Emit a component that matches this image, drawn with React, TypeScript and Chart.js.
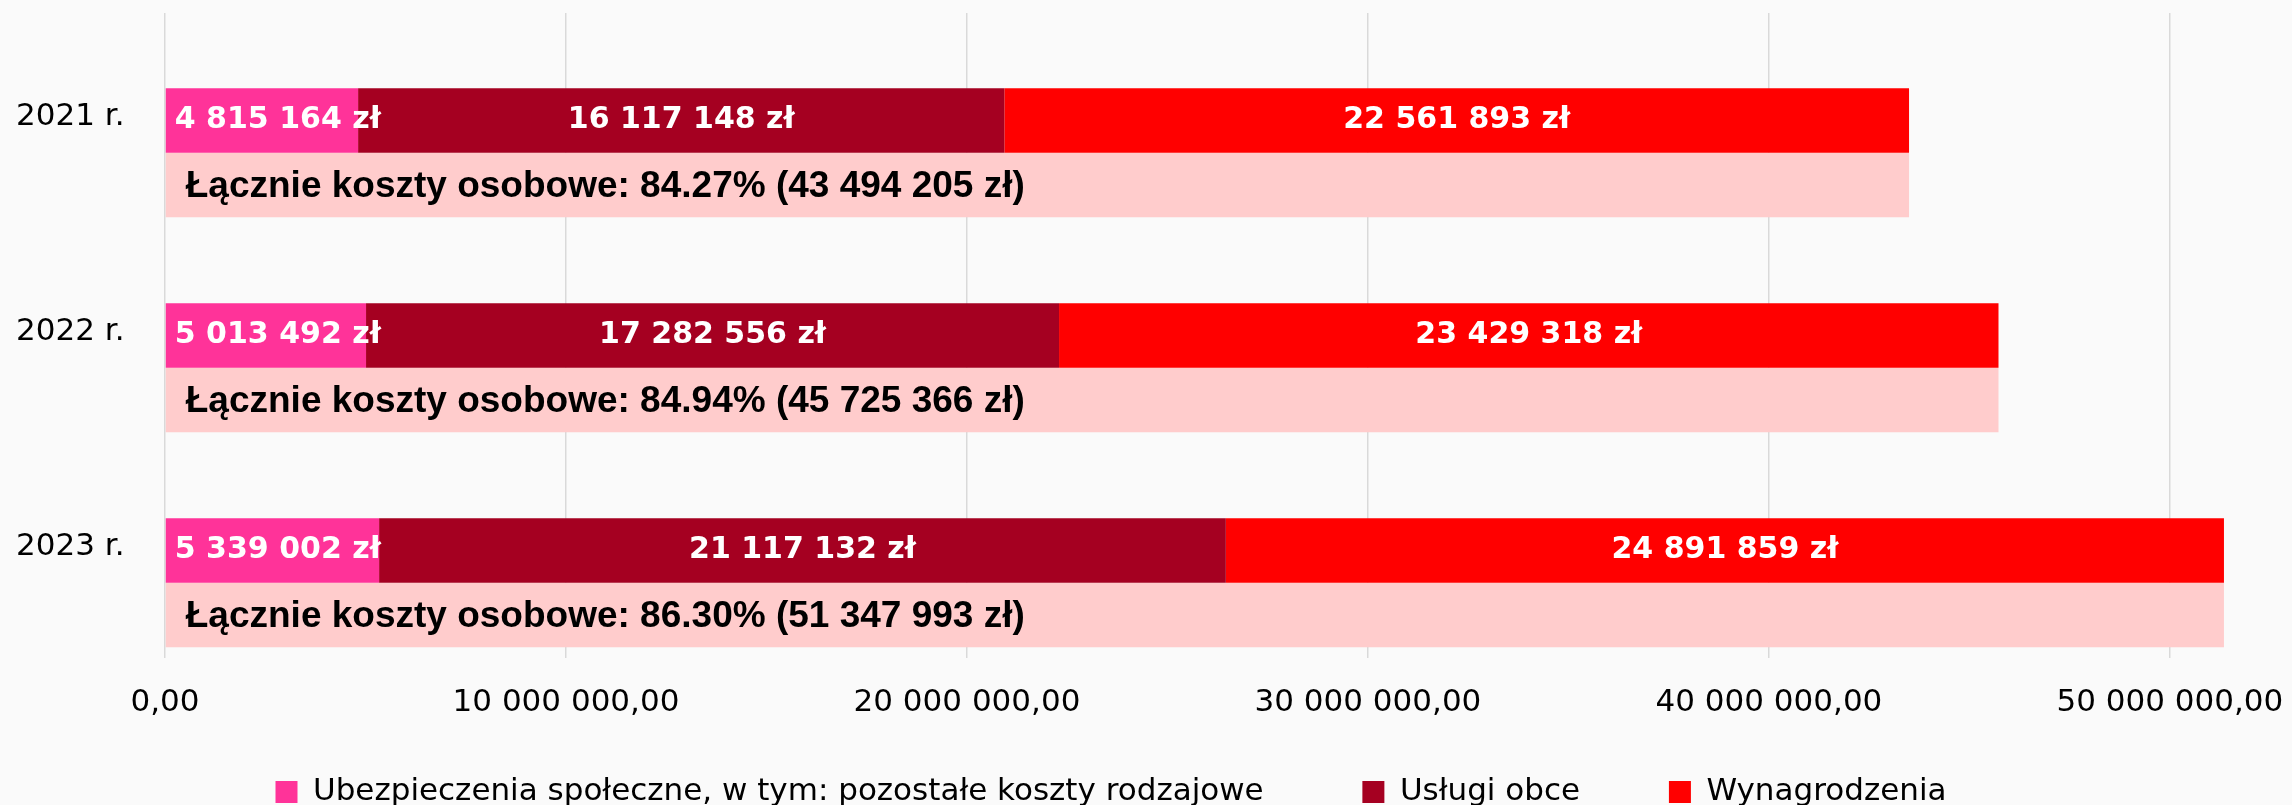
import React, { useEffect, useRef } from 'react';
import { Chart, registerables } from 'chart.js';

Chart.register(...registerables);

const years = ['2021 r.', '2022 r.', '2023 r.'];
const ubezpieczenia = [4815164, 5013492, 5339002];
const uslugiObce = [16117148, 17282556, 21117132];
const wynagrodzenia = [22561893, 23429318, 24891859];
const lacznie = [43494205, 45725366, 51347993];
const udzialProcent = ['84.27', '84.94', '86.30'];
const spacer = [0, 0, 0];
const xTickValues = [0, 10000000, 20000000, 30000000, 40000000, 50000000];
const seriesNames = [
  'Ubezpieczenia społeczne, w tym: pozostałe koszty rodzajowe',
  'Usługi obce',
  'Wynagrodzenia',
];
const totalName = 'Łącznie koszty osobowe';

const fmtInt = (n: number) => String(Math.round(n)).replace(/\B(?=(\d{3})+(?!\d))/g, ' ');
const fmtTick = (n: number) => fmtInt(n) + ',00';

const REG = '"DejaVu Sans", Verdana, sans-serif';

const barLabels = {
  id: 'barLabels',
  afterDatasetsDraw(chart: any) {
    const ctx = chart.ctx;
    ctx.save();
    ctx.textBaseline = 'middle';
    [1, 2, 3].forEach((di) => {
      const meta = chart.getDatasetMeta(di);
      meta.data.forEach((el: any, i: number) => {
        const { x, y, base } = el.getProps(['x', 'y', 'base'], true);
        const v = chart.data.datasets[di].data[i] as number;
        const text = fmtInt(v) + ' zł';
        ctx.font = 'bold 30px "DejaVu Sans", Verdana, sans-serif';
        ctx.fillStyle = '#ffffff';
        if (di === 1) {
          ctx.textAlign = 'left';
          ctx.fillText(text, base + 9, y);
        } else {
          ctx.textAlign = 'center';
          ctx.fillText(text, (base + x) / 2, y);
        }
      });
    });
    const tmeta = chart.getDatasetMeta(4);
    tmeta.data.forEach((el: any, i: number) => {
      const { y, base } = el.getProps(['y', 'base'], true);
      ctx.font = 'bold 37px "Liberation Sans", Arial, sans-serif';
      ctx.fillStyle = '#000000';
      ctx.textAlign = 'left';
      ctx.fillText(`${totalName}: ${udzialProcent[i]}% (${fmtInt(lacznie[i])} zł)`, base + 20, y + 2);
    });
    ctx.restore();
  },
};

export default function App() {
  const ref = useRef<HTMLCanvasElement | null>(null);
  useEffect(() => {
    document.body.style.margin = '0';
    document.body.style.background = '#fafafa';
    const canvas = ref.current!;
    const chart = new Chart(canvas, {
      type: 'bar',
      data: {
        labels: years,
        datasets: [
          { label: 'spacer', data: spacer, stack: 'spacer', backgroundColor: 'rgba(0,0,0,0)', borderWidth: 0, clip: false },
          { label: seriesNames[0], data: ubezpieczenia, stack: 'parts', backgroundColor: '#FF3399', borderWidth: 0, clip: false },
          { label: seriesNames[1], data: uslugiObce, stack: 'parts', backgroundColor: '#A50021', borderWidth: 0, clip: false },
          { label: seriesNames[2], data: wynagrodzenia, stack: 'parts', backgroundColor: '#FF0000', borderWidth: 0, clip: false },
          { label: totalName, data: lacznie, stack: 'total', backgroundColor: '#FFCCCC', borderWidth: 0, clip: false },
        ],
      },
      options: {
        indexAxis: 'y',
        responsive: false,
        animation: false,
        devicePixelRatio: 1,
        layout: { padding: { left: 16, right: 86, top: 13, bottom: -12.5 } },
        datasets: { bar: { categoryPercentage: 0.9, barPercentage: 1 } },
        scales: {
          x: {
            stacked: true,
            min: 0,
            max: 50900000,
            afterBuildTicks: (s: any) => {
              s.ticks = xTickValues.map((v) => ({ value: v }));
            },
            afterFit: (s: any) => {
              s.height = 108.5;
              s.paddingLeft = 0;
              s.paddingRight = 0;
            },
            grid: { color: '#d9d9d9', lineWidth: 1.5, drawTicks: false },
            border: { display: false },
            ticks: {
              padding: 26,
              autoSkip: false,
              maxRotation: 0,
              color: '#000000',
              font: { family: REG, size: 31 },
              callback: (v: any) => fmtTick(Number(v)),
            },
          },
          y: {
            stacked: true,
            grid: { display: false },
            border: { display: false },
            afterFit: (s: any) => {
              s.width = 149;
              s.paddingTop = 0;
              s.paddingBottom = 0;
            },
            ticks: {
              crossAlign: 'far',
              labelOffset: -4,
              color: '#000000',
              font: { family: REG, size: 31 },
            },
          },
        },
        plugins: {
          tooltip: { enabled: false },
          legend: {
            position: 'bottom',
            labels: {
              boxWidth: 22,
              boxHeight: 22,
              padding: 10,
              color: '#000000',
              font: { family: REG, size: 31 },
              generateLabels: (ch: any) => {
                const items = (Chart.defaults.plugins.legend.labels as any)
                  .generateLabels(ch)
                  .filter((it: any) => it.datasetIndex >= 1 && it.datasetIndex <= 3);
                const pads = [9, 8];
                return items.map((it: any, k: number) => ({
                  ...it,
                  text: k < items.length - 1 ? it.text + '\u00A0'.repeat(pads[k]) : it.text,
                }));
              },
            },
          },
        },
      },
      plugins: [barLabels],
    } as any);
    return () => chart.destroy();
  }, []);
  return (
    <div style={{ position: 'fixed', left: 0, top: 0, width: 2292, height: 805, background: '#fafafa' }}>
      <canvas ref={ref} width={2292} height={805} style={{ display: 'block', width: 2292, height: 805 }} />
    </div>
  );
}
